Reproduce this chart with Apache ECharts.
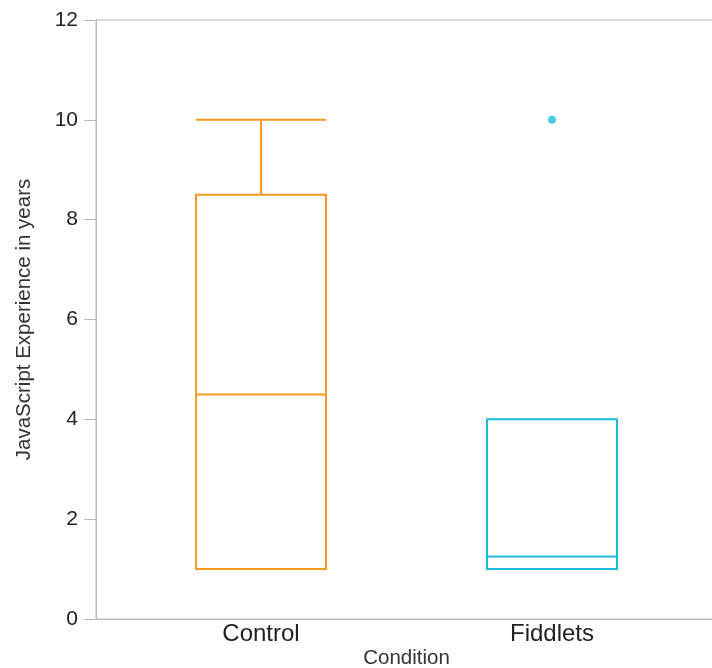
<!DOCTYPE html>
<html>
<head>
<meta charset="utf-8">
<script src="https://cdn.jsdelivr.net/npm/echarts@6/dist/echarts.min.js"></script>
<style>html,body{margin:0;padding:0;background:#fff}#c{width:712px;height:668px}</style>
</head>
<body>
<div id="c"></div>
<script>
// Data
var categories = ['Control', 'Fiddlets'];
// [lower whisker, Q1, median, Q3, upper whisker]
var controlBox = [1, 1, 4.5, 8.5, 10];
var fiddletsBox = [1, 1, 1.25, 4, 4];
var outliers = [['Fiddlets', 10]];
var yTicks = [0, 2, 4, 6, 8, 10, 12];
var colors = ['#f8991f', '#1cbcd6'];

var chart = echarts.init(document.getElementById('c'), null, {renderer: 'canvas'});
var font = '"Liberation Sans", Arial, Helvetica, sans-serif';
var axisGray = '#b8b8b8';

chart.setOption({
  animation: false,
  grid: [
    {left: 96, top: 20, width: 621, bottom: 49, show: true, borderColor: axisGray, borderWidth: 1,
      backgroundColor: 'transparent', outerBoundsMode: 'none', containLabel: false},
    {left: 115.5, top: 20, width: 582, bottom: 49, outerBoundsMode: 'none', containLabel: false}
  ],
  xAxis: [
    {gridIndex: 0, type: 'value', min: 0, max: 1,
      axisLine: {show: true, lineStyle: {color: axisGray, width: 1}},
      axisTick: {show: false}, axisLabel: {show: false}, splitLine: {show: false},
      name: 'Condition', nameLocation: 'middle', nameGap: 29,
      nameTextStyle: {fontFamily: font, fontSize: 20.5, color: '#333'}
    },
    {gridIndex: 1, type: 'category', data: categories, boundaryGap: true,
      axisLine: {show: false}, axisTick: {show: false}, splitLine: {show: false},
      axisLabel: {fontFamily: font, fontSize: 24, color: '#222', margin: 3}
    }
  ],
  yAxis: [
    {gridIndex: 0, type: 'value', min: yTicks[0], max: yTicks[yTicks.length - 1], interval: 2,
      axisLine: {show: true, lineStyle: {color: axisGray, width: 1}},
      axisTick: {show: true, length: 12, lineStyle: {color: axisGray}},
      splitLine: {show: false},
      axisLabel: {fontFamily: font, fontSize: 21, color: '#222', margin: 18},
      name: 'JavaScript Experience in years', nameLocation: 'middle', nameGap: 61,
      nameTextStyle: {fontFamily: font, fontSize: 20.5, color: '#333'}
    },
    {gridIndex: 1, type: 'value', min: yTicks[0], max: yTicks[yTicks.length - 1], interval: 2, show: false}
  ],
  series: [
    {
      type: 'boxplot', xAxisIndex: 1, yAxisIndex: 1,
      boxWidth: [130, 130],
      data: [
        {value: controlBox, itemStyle: {color: 'transparent', borderColor: colors[0], borderWidth: 2}},
        {value: fiddletsBox, itemStyle: {color: 'transparent', borderColor: colors[1], borderWidth: 2}}
      ]
    },
    {
      type: 'scatter', xAxisIndex: 1, yAxisIndex: 1,
      symbolSize: 8,
      itemStyle: {color: colors[1]},
      data: outliers
    }
  ]
});
</script>
</body>
</html>
